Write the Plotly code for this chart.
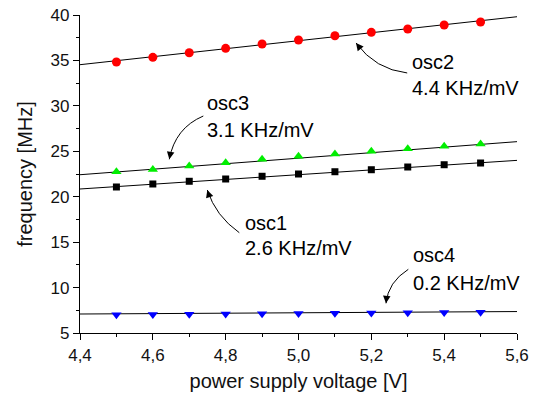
import plotly.graph_objects as go

# ---- data ----
voltage = [4.5, 4.6, 4.7, 4.8, 4.9, 5.0, 5.1, 5.2, 5.3, 5.4, 5.5]
osc1 = [21.07, 21.40, 21.70, 21.95, 22.25, 22.50, 22.75, 22.97, 23.27, 23.52, 23.71]
osc2 = [34.83, 35.34, 35.85, 36.33, 36.81, 37.25, 37.72, 38.09, 38.46, 38.90, 39.23]
osc3 = [22.75, 23.00, 23.38, 23.75, 24.12, 24.45, 24.70, 25.00, 25.29, 25.55, 25.80]
osc4 = [7.00, 7.03, 7.06, 7.09, 7.12, 7.15, 7.18, 7.21, 7.23, 7.26, 7.28]

fit_x = [4.4, 5.6]
fit1 = [20.85, 24.00]
fit2 = [34.53, 39.81]
fit3 = [22.42, 26.06]
fit4 = [7.09, 7.36]

labels = ["osc1", "osc2", "osc3", "osc4"]
slopes = ["2.6 KHz/mV", "4.4 KHz/mV", "3.1 KHz/mV", "0.2 KHz/mV"]

FONT = "Arial, Liberation Sans, sans-serif"

fig = go.Figure()

series = [
    (osc2, "#ff0000", "circle", 9),
    (osc3, "#00ee00", "triangle-up", 9),
    (osc1, "#000000", "square", 7),
    (osc4, "#0000ff", "triangle-down", 9),
]
for fit in (fit1, fit2, fit3, fit4):
    fig.add_trace(go.Scatter(x=fit_x, y=fit, mode="lines",
                             line=dict(color="black", width=1), showlegend=False,
                             hoverinfo="skip"))
for ys, col, sym, sz in series:
    fig.add_trace(go.Scatter(x=voltage, y=ys, mode="markers",
                             marker=dict(color=col, symbol=sym, size=sz, line=dict(width=0)),
                             showlegend=False))

# ---- annotation text (left-aligned label + slope) ----
text_pos = {
    "osc1": (4.852, 17.08, 14.32),
    "osc2": (5.312, 34.83, 31.97),
    "osc3": (4.748, 30.28, 27.34),
    "osc4": (5.315, 13.58, 10.54),
}
for lab, slope in zip(labels, slopes):
    x, y1, y2 = text_pos[lab]
    for t, y in ((lab, y1), (slope, y2)):
        fig.add_annotation(x=x, y=y, xref="x", yref="y", text=t, showarrow=False,
                           xanchor="left", yanchor="middle", xshift=-2,
                           font=dict(family=FONT, size=20, color="black"))

# ---- curved arrows: (tail, control, tip, arrow offset) ----
arrows = [
    ((5.2985, 33.62), (5.211, 34.01), (5.158, 36.92), (5, 6.4)),     # osc2
    ((4.7386, 28.884), (4.6611, 27.563), (4.6452, 24.118), (1.5, -8)),  # osc3
    ((4.8374, 16.04), (4.7726, 17.867), (4.7496, 20.74), (2.5, 7.6)),   # osc1
    ((5.3015, 12.011), (5.246, 10.603), (5.2403, 8.27), (0.8, -8)),     # osc4
]
for (tx, ty), (cx, cy), (hx, hy), (ax, ay) in arrows:
    fig.add_shape(type="path", xref="x", yref="y",
                  path=f"M {tx},{ty} Q {cx},{cy} {hx},{hy}",
                  line=dict(color="black", width=1))
    fig.add_annotation(x=hx, y=hy, xref="x", yref="y", ax=ax, ay=ay, text="",
                       showarrow=True, arrowhead=2, arrowsize=1.5, arrowwidth=1,
                       arrowcolor="black", standoff=0)

axis_common = dict(showline=True, linecolor="black", linewidth=1.3, ticks="outside",
                   ticklen=6, tickwidth=1.2, tickcolor="black", showgrid=False,
                   zeroline=False, mirror=False, automargin=False,
                   tickfont=dict(family=FONT, size=17, color="#111"))

fig.update_xaxes(range=[4.4, 5.6], tickvals=[4.4, 4.6, 4.8, 5.0, 5.2, 5.4, 5.6],
                 tickformat=".1f",
                 minor=dict(dtick=0.1, ticks="outside", ticklen=3, tickcolor="black",
                            tickwidth=1.2, showgrid=False),
                 title=dict(text="power supply voltage [V]",
                            font=dict(family=FONT, size=20, color="#111"), standoff=10),
                 **axis_common)
fig.update_yaxes(range=[5, 40], dtick=5,
                 minor=dict(dtick=2.5, ticks="outside", ticklen=3, tickcolor="black",
                            tickwidth=1.2, showgrid=False),
                 title=dict(text="frequency [MHz]",
                            font=dict(family=FONT, size=20, color="#111"), standoff=12),
                 **axis_common)

fig.update_layout(width=535, height=394, separators=",.", template="none",
                  margin=dict(l=80, r=18, t=15, b=61, autoexpand=False),
                  paper_bgcolor="white", plot_bgcolor="white", showlegend=False)

fig.write_html("out.html", config={"displayModeBar": False},
               post_script="document.body.style.margin='0';document.body.style.overflow='hidden';")
